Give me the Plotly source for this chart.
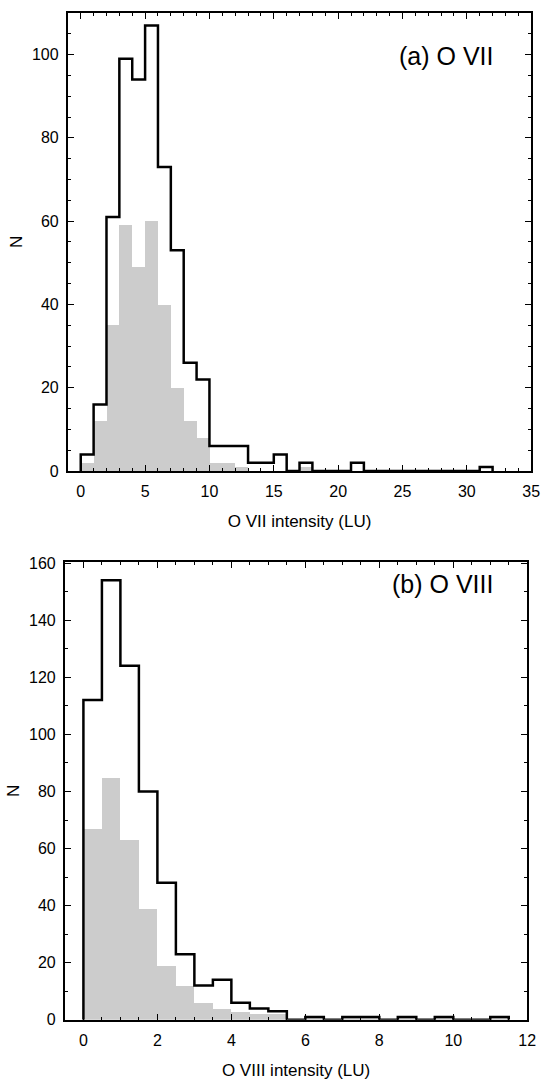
import plotly.graph_objects as go

# O VII histogram: 1 LU bins starting at 0
ovii_edges_start = 0.0
ovii_bin_width = 1.0
ovii_all = [4, 16, 61, 99, 94, 107, 73, 53, 26, 22, 6, 6, 6, 2, 2, 4, 0, 2, 0, 0,
            0, 2, 0, 0, 0, 0, 0, 0, 0, 0, 0, 1]
ovii_sub = [2, 12, 35, 59, 49, 60, 40, 20, 12, 8, 2, 2, 1, 0, 0, 0, 0, 1, 0, 0,
            0, 0, 0, 0, 0, 0, 0, 0, 0, 0, 0, 0]

# O VIII histogram: 0.5 LU bins starting at 0
oviii_edges_start = 0.0
oviii_bin_width = 0.5
oviii_all = [112, 154, 124, 80, 48, 23, 12, 14, 6, 4, 3, 0, 1, 0, 1, 1, 0, 1, 0, 1,
             0, 0, 1]
oviii_sub = [67, 85, 63, 39, 19, 12, 6, 4, 3, 2, 2, 0, 1, 0, 1, 1, 0, 1, 0, 1,
             0, 0, 1]

ovii_xticks = [0, 5, 10, 15, 20, 25, 30, 35]
ovii_yticks = [0, 20, 40, 60, 80, 100]
oviii_xticks = [0, 2, 4, 6, 8, 10, 12]
oviii_yticks = [0, 20, 40, 60, 80, 100, 120, 140, 160]

FONT = "Liberation Sans"
GRAY = "#cccccc"
W, H = 552, 1083


def step_outline(start, width, counts):
    edges = [start + i * width for i in range(len(counts) + 1)]
    xs = [edges[0]] + edges
    ys = [0] + list(counts) + [0]
    return xs, ys


def bar_lefts(start, width, counts):
    return [start + i * width for i in range(len(counts))]


fig = go.Figure()

# panel (a)
fig.add_trace(go.Bar(
    x=bar_lefts(ovii_edges_start, ovii_bin_width, ovii_sub), y=ovii_sub,
    width=ovii_bin_width, offset=0, marker=dict(color=GRAY, line=dict(width=0)),
    xaxis="x", yaxis="y", showlegend=False))
xs, ys = step_outline(ovii_edges_start, ovii_bin_width, ovii_all)
fig.add_trace(go.Scatter(
    x=xs, y=ys, mode="lines", line=dict(color="black", width=2.5, shape="hv"),
    xaxis="x", yaxis="y", showlegend=False))

# panel (b)
fig.add_trace(go.Bar(
    x=bar_lefts(oviii_edges_start, oviii_bin_width, oviii_sub), y=oviii_sub,
    width=oviii_bin_width, offset=0, marker=dict(color=GRAY, line=dict(width=0)),
    xaxis="x2", yaxis="y2", showlegend=False))
xs, ys = step_outline(oviii_edges_start, oviii_bin_width, oviii_all)
fig.add_trace(go.Scatter(
    x=xs, y=ys, mode="lines", line=dict(color="black", width=2.5, shape="hv"),
    xaxis="x2", yaxis="y2", showlegend=False))

axis_common = dict(
    showline=True, linecolor="black", linewidth=2, mirror="allticks",
    ticks="inside", ticklen=6, tickwidth=1, tickcolor="black",
    showgrid=False, zeroline=False,
    tickfont=dict(family=FONT, size=16, color="black"),
)
title_font = dict(family=FONT, size=17, color="black")

fig.update_layout(
    width=W, height=H, margin=dict(l=0, r=0, t=0, b=0),
    paper_bgcolor="white", plot_bgcolor="white", bargap=0,
    xaxis=dict(axis_common, domain=[69 / W, 540 / W], anchor="y",
               range=[-1, 35], tickvals=ovii_xticks, ticklabelstandoff=5,
               minor=dict(dtick=1, ticks="inside", ticklen=3, tickcolor="black"),
               title=dict(text="O VII intensity (LU)", font=title_font, standoff=16)),
    yaxis=dict(axis_common, domain=[1 - 471 / H, 1 - 6 / H], anchor="x",
               range=[0, 110], tickvals=ovii_yticks, ticklabelstandoff=4,
               minor=dict(dtick=5, ticks="inside", ticklen=3, tickcolor="black"),
               title=dict(text="N", font=title_font, standoff=5)),
    xaxis2=dict(axis_common, domain=[66 / W, 536 / W], anchor="y2",
                range=[-0.5, 12], tickvals=oviii_xticks, ticklabelstandoff=5,
                minor=dict(dtick=0.5, ticks="inside", ticklen=3, tickcolor="black"),
                title=dict(text="O VIII intensity (LU)", font=title_font, standoff=16)),
    yaxis2=dict(axis_common, domain=[1 - 1028 / H, 1 - 563 / H], anchor="x2",
                range=[0, 160.5], tickvals=oviii_yticks, ticklabelstandoff=4,
                minor=dict(dtick=10, ticks="inside", ticklen=3, tickcolor="black"),
                title=dict(text="N", font=title_font, standoff=5)),
    annotations=[
        dict(text="(a) O VII", xref="paper", yref="paper", x=503 / W, y=1 - 50 / H,
             xanchor="right", yanchor="middle", showarrow=False,
             font=dict(family=FONT, size=25, color="black")),
        dict(text="(b) O VIII", xref="paper", yref="paper", x=503 / W, y=1 - 586 / H,
             xanchor="right", yanchor="middle", showarrow=False,
             font=dict(family=FONT, size=25, color="black")),
    ],
)

fig.write_html("out.html")
